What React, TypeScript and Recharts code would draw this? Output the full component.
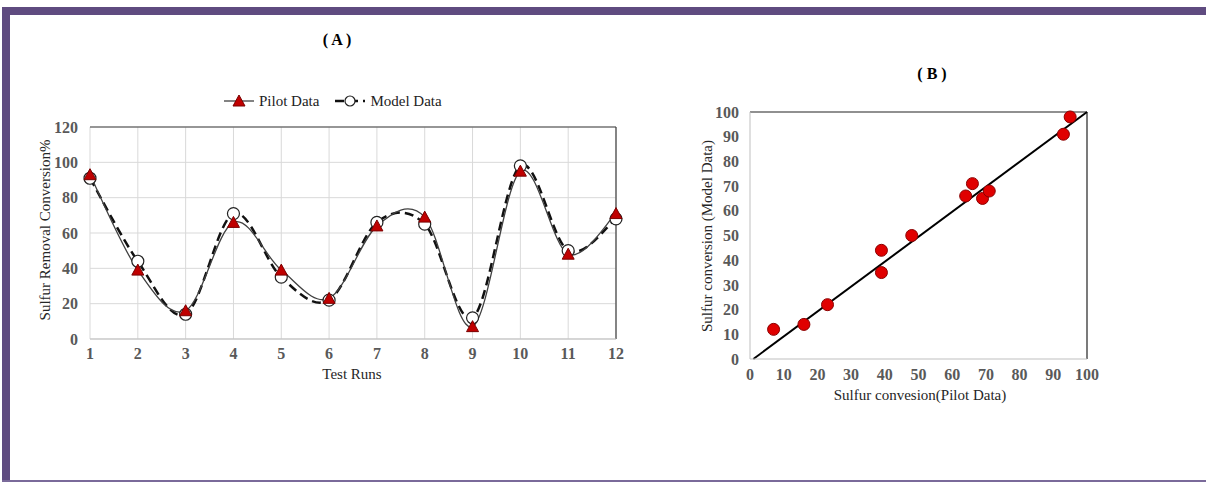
import React from "react";
import {
  LineChart,
  Line,
  ScatterChart,
  Scatter,
  XAxis,
  YAxis,
  CartesianGrid,
  ReferenceLine,
} from "recharts";

const runs = [1, 2, 3, 4, 5, 6, 7, 8, 9, 10, 11, 12];
const pilotData = [93, 39, 16, 66, 39, 23, 64, 69, 7, 95, 48, 71];
const modelData = [91, 44, 14, 71, 35, 22, 66, 65, 12, 98, 50, 68];
const yTicksA = [0, 20, 40, 60, 80, 100, 120];
const ticksB = [0, 10, 20, 30, 40, 50, 60, 70, 80, 90, 100];
const fitLine = [
  { x: 1, y: 0 },
  { x: 100, y: 100 },
];

const lineData = runs.map((r, i) => ({ run: r, pilot: pilotData[i], model: modelData[i] }));
const scatterData = pilotData.map((p, i) => ({ x: p, y: modelData[i] }));

const FONT = "'Liberation Serif', 'Times New Roman', serif";
const PURPLE = "#5f4b80";
const tickStyle = { fontSize: 16, fontWeight: 700, fill: "#595959", fontFamily: FONT };

// excel-like smoothed line (bezier, 1/6 tangents)
function smoothCurve(context: any) {
  let pts: number[][] = [];
  return {
    areaStart() {},
    areaEnd() {},
    lineStart() {
      pts = [];
    },
    point(x: number, y: number) {
      pts.push([+x, +y]);
    },
    lineEnd() {
      if (!pts.length) return;
      context.moveTo(pts[0][0], pts[0][1]);
      for (let i = 0; i < pts.length - 1; i++) {
        const p0 = pts[i - 1] || pts[i];
        const p1 = pts[i];
        const p2 = pts[i + 1];
        const p3 = pts[i + 2] || pts[i + 1];
        context.bezierCurveTo(
          p1[0] + (p2[0] - p0[0]) / 6,
          p1[1] + (p2[1] - p0[1]) / 6,
          p2[0] - (p3[0] - p1[0]) / 6,
          p2[1] - (p3[1] - p1[1]) / 6,
          p2[0],
          p2[1]
        );
      }
    },
  };
}

const TriangleDot = (props: any) => {
  const { cx, cy, index } = props;
  if (cx == null || cy == null) return <g key={`t-${index}`} />;
  return (
    <polygon
      key={`t-${index}`}
      points={`${cx},${cy - 6} ${cx - 6},${cy + 5} ${cx + 6},${cy + 5}`}
      fill="#c00000"
      stroke="#7a0000"
      strokeWidth={1}
    />
  );
};

const CircleDot = (props: any) => {
  const { cx, cy, index } = props;
  if (cx == null || cy == null) return <g key={`c-${index}`} />;
  return <circle key={`c-${index}`} cx={cx} cy={cy} r={6} fill="#fff" stroke="#222" strokeWidth={1.2} />;
};

const RedDot = (props: any) => {
  const { cx, cy } = props;
  return <circle cx={cx} cy={cy} r={6} fill="#e00000" stroke="#8b0000" strokeWidth={1} />;
};

const abs = (s: React.CSSProperties): React.CSSProperties => ({ position: "absolute", ...s });

export default function App() {
  return (
    <div style={abs({ left: 0, top: 0, width: 1206, height: 483, background: "#fff", fontFamily: FONT, overflow: "hidden" })}>
      {/* frame */}
      <div style={abs({ left: 2, top: 7, width: 1204, height: 8, background: PURPLE })} />
      <div style={abs({ left: 2, top: 7, width: 8, height: 475, background: PURPLE })} />
      <div style={abs({ left: 2, top: 480, width: 1204, height: 2, background: "#7a6a9a" })} />

      {/* chart A */}
      <div style={abs({ left: 0, top: 0 })}>
        <LineChart width={700} height={420} data={lineData} margin={{ top: 127, right: 84, left: 40, bottom: 51 }}>
          <CartesianGrid stroke="#d9d9d9" strokeWidth={1} />
          <XAxis
            dataKey="run"
            type="number"
            domain={[1, 12]}
            ticks={runs}
            height={30}
            tickLine={false}
            tickMargin={3}
            axisLine={{ stroke: "#bfbfbf" }}
            tick={tickStyle}
          />
          <YAxis
            type="number"
            domain={[0, 120]}
            ticks={yTicksA}
            width={50}
            tickLine={false}
            tickMargin={6}
            axisLine={false}
            tick={tickStyle}
          />
          <ReferenceLine y={120} stroke="#404040" strokeWidth={1.2} />
          <ReferenceLine x={12} stroke="#404040" strokeWidth={1.2} />
          <Line
            dataKey="model"
            type={smoothCurve as any}
            stroke="#111"
            strokeWidth={2.5}
            strokeDasharray="9 5"
            dot={CircleDot}
            activeDot={false}
            isAnimationActive={false}
          />
          <Line
            dataKey="pilot"
            type={smoothCurve as any}
            stroke="#404040"
            strokeWidth={1.3}
            dot={TriangleDot}
            activeDot={false}
            isAnimationActive={false}
          />
        </LineChart>
      </div>
      <div style={abs({ left: 287, top: 31, width: 100, textAlign: "center", fontSize: 16, fontWeight: 700 })}>( A )</div>

      {/* legend A */}
      <div style={abs({ left: 222, top: 91, height: 20, display: "flex", alignItems: "center", fontSize: 15, color: "#222" })}>
        <svg width={34} height={16}>
          <line x1={2} y1={8} x2={32} y2={8} stroke="#404040" strokeWidth={1.3} />
          <polygon points="17,2 11,13 23,13" fill="#c00000" stroke="#7a0000" />
        </svg>
        <span style={{ marginLeft: 3 }}>Pilot Data</span>
        <svg width={34} height={16} style={{ marginLeft: 14 }}>
          <line x1={2} y1={8} x2={32} y2={8} stroke="#111" strokeWidth={2.5} strokeDasharray="9 5" />
          <circle cx={17} cy={8} r={5} fill="#fff" stroke="#222" strokeWidth={1.2} />
        </svg>
        <span style={{ marginLeft: 3 }}>Model Data</span>
      </div>

      <div
        style={abs({
          left: 45 - 120,
          top: 230 - 10,
          width: 240,
          height: 20,
          lineHeight: "20px",
          textAlign: "center",
          fontSize: 15,
          color: "#262626",
          transform: "rotate(-90deg)",
        })}
      >
        Sulfur Removal Conversion%
      </div>
      <div style={abs({ left: 252, top: 366, width: 200, textAlign: "center", fontSize: 15, color: "#262626" })}>Test Runs</div>

      {/* chart B */}
      <div style={abs({ left: 650, top: 0 })}>
        <ScatterChart width={480} height={420} margin={{ top: 112, right: 43, left: 50, bottom: 31 }}>
          <XAxis
            dataKey="x"
            type="number"
            domain={[0, 100]}
            ticks={ticksB}
            height={30}
            tickLine={false}
            tickMargin={4}
            axisLine={{ stroke: "#bfbfbf" }}
            tick={tickStyle}
          />
          <YAxis
            dataKey="y"
            type="number"
            domain={[0, 100]}
            ticks={ticksB}
            width={50}
            tickLine={false}
            tickMargin={5}
            axisLine={{ stroke: "#bfbfbf" }}
            tick={tickStyle}
          />
          <ReferenceLine y={100} stroke="#222" strokeWidth={1.2} />
          <ReferenceLine x={100} stroke="#222" strokeWidth={1.2} />
          <ReferenceLine segment={fitLine} stroke="#000" strokeWidth={2} />
          <Scatter data={scatterData} shape={RedDot} isAnimationActive={false} />
        </ScatterChart>
      </div>
      <div style={abs({ left: 882, top: 65, width: 100, textAlign: "center", fontSize: 16, fontWeight: 700 })}>( B )</div>
      <div
        style={abs({
          left: 707 - 120,
          top: 236 - 10,
          width: 240,
          height: 20,
          lineHeight: "20px",
          textAlign: "center",
          fontSize: 15,
          color: "#262626",
          transform: "rotate(-90deg)",
        })}
      >
        Sulfur conversion (Model Data)
      </div>
      <div style={abs({ left: 820, top: 387, width: 200, textAlign: "center", fontSize: 15, color: "#262626" })}>
        Sulfur convesion(Pilot Data)
      </div>
    </div>
  );
}
